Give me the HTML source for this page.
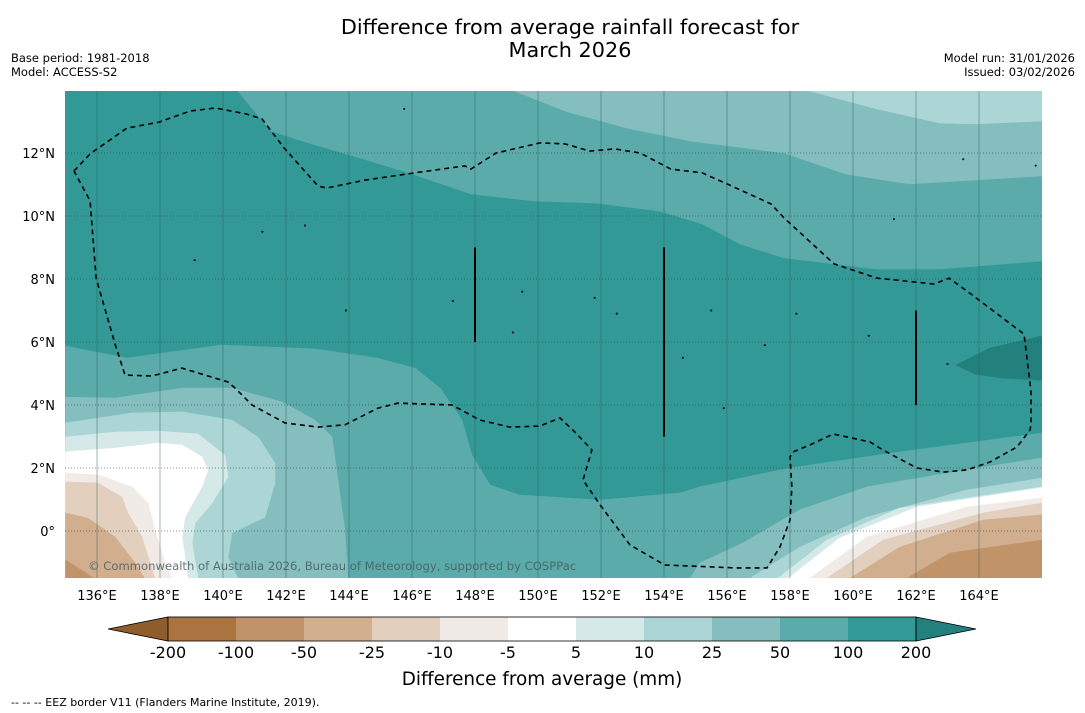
<!DOCTYPE html>
<html><head><meta charset="utf-8">
<style>
html,body{margin:0;padding:0;background:#fff;}
svg{display:block;font-family:"DejaVu Sans","Liberation Sans",sans-serif;}
</style></head>
<body>
<svg id="chart" width="1085" height="713" viewBox="0 0 1085 713" xmlns="http://www.w3.org/2000/svg">
<text x="570" y="34" text-anchor="middle" font-size="20.8" fill="#000">Difference from average rainfall forecast for</text>
<text x="570" y="57" text-anchor="middle" font-size="20.8" fill="#000">March 2026</text>
<text x="11" y="62" font-size="11.5" fill="#000">Base period: 1981-2018</text>
<text x="11" y="76" font-size="11.5" fill="#000">Model: ACCESS-S2</text>
<text x="1075" y="62" font-size="11.5" text-anchor="end" fill="#000">Model run: 31/01/2026</text>
<text x="1075" y="76" font-size="11.5" text-anchor="end" fill="#000">Issued: 03/02/2026</text>
<defs><clipPath id="mapclip"><rect x="65" y="91" width="977" height="487"/></clipPath></defs>
<g id="map" clip-path="url(#mapclip)"></g>
<g id="axes"></g>
<g id="cbar"></g>
<text x="542" y="685" text-anchor="middle" font-size="18.4" fill="#000">Difference from average (mm)</text>
<text x="11" y="706" font-size="11" fill="#000">--  --  -- EEZ border V11 (Flanders Marine Institute, 2019).</text>
</svg>
<script>
const lonTicks=[136,138,140,142,144,146,148,150,152,154,156,158,160,162,164];
const latTicks=[0,2,4,6,8,10,12];
const levelLabels=['-200','-100','-50','-25','-10','-5','5','10','25','50','100','200'];
const bandColors=['#8f5d2c','#a9743f','#c09468','#d1af8e','#e2cfbe','#f0ebe7','#ffffff','#d5e9e8','#acd5d5','#84bebe','#5aabaa','#339996','#22807d'];
const top100=[[140.44,14],[141.52,12.7],[142.51,12.38],[143.91,11.97],[145.9,11.37],[147.87,10.7],[149.87,10.48],[151.84,10.41],[153.84,10.16],[155.21,9.75],[156.41,9.11],[157.81,8.67],[160.76,8.32],[162.76,8.32],[166,8.57]];
const top50=[[149.17,14],[150.86,13.33],[152.83,12.79],[154.83,12.38],[157.81,12.0],[159.78,11.33],[161.78,11.02],[166,11.27]];
const top25=[[158.5,14],[160.76,13.4],[162.76,12.95],[163.94,12.92],[166,13.02]];
const dark200=[[163.27,5.27],[164.35,5.81],[166,6.19],[166,4.79],[164.73,4.86],[163.87,4.98]];
const low100=[[135,5.87],[136.95,5.49],[139.94,5.9],[142.92,5.78],[144.89,5.49],[146.1,5.17],[146.89,4.54],[147.59,3.52],[147.9,2.41],[148.48,1.46],[149.43,1.14],[151.97,0.98],[154.51,1.21],[155.13,1.4],[157.99,2.0],[161.48,2.51],[166,3.11]];
const low50L=[[135,4.25],[136.57,4.22],[138.7,4.54],[140.29,4.54],[141.87,4.1],[142.92,3.52],[143.46,2.98],[143.65,1.62],[143.87,0.03],[143.97,-1.52]];
const low50R=[[154.83,-1.5],[155.13,-1.02],[156.5,-0.38],[158.31,0.67],[160.44,1.4],[163.61,1.94],[166,2.32]];
const low25L=[[135,3.43],[137.11,3.75],[138.7,3.78],[140.29,3.52],[141.11,2.98],[141.65,2.16],[141.65,1.52],[141.33,0.44],[140.29,-0.06],[140.16,-0.83],[140.48,-1.52]];
const low25R=[[156.73,-1.5],[158.31,-0.51],[160.44,0.44],[163.61,1.3],[166,1.68]];
const low10L=[[135,2.98],[136.57,3.14],[137.94,3.17],[139.21,3.08],[140.06,2.41],[140.16,1.71],[139.65,0.89],[139.11,0.25],[139.02,-0.38],[139.21,-1.52]];
const low10R=[[157.62,-1.5],[159.17,-0.29],[161.49,0.73],[166,1.4]];
const low5L=[[135,2.51],[136.57,2.63],[137.94,2.79],[138.7,2.73],[139.33,2.35],[139.52,1.94],[139.33,1.4],[138.79,0.44],[138.7,-0.19],[138.89,-1.52]];
const low5R=[[157.94,-1.5],[159.59,-0.22],[162.03,0.76],[166,1.37]];
const lowm5L=[[135,1.84],[136.03,1.78],[137.11,1.4],[137.62,0.89],[137.84,0.03],[138.16,-1.02],[138.38,-1.52]];
const lowm5R=[[158.63,-1.5],[160.44,-0.19],[163.61,0.76],[166,1.05]];
const lowm10L=[[135,1.56],[136.03,1.52],[136.79,1.08],[136.98,0.57],[137.43,-0.19],[137.84,-1.52]];
const lowm10R=[[159.17,-1.5],[160.95,-0.29],[164.13,0.57],[166,0.89]];
const lowm25L=[[135,0.57],[135.71,0.41],[136.57,-0.19],[137.21,-1.02],[137.52,-1.52]];
const lowm25R=[[159.9,-1.5],[161.49,-0.51],[164.13,0.35],[166,0.51]];
const lowm50L=[[135,-0.92],[135.94,-1.52]];
const lowm50R=[[161.71,-1.5],[163.08,-0.7],[166,-0.29]];
const eez=[[135.27,11.43],[135.78,11.97],[136.95,12.79],[137.97,12.98],[138.95,13.33],[139.75,13.43],[140.73,13.24],[141.24,13.08],[141.94,12.16],[143.02,10.95],[143.3,10.89],[144.51,11.14],[146.1,11.37],[147.68,11.59],[147.87,11.49],[148.67,12.0],[150.06,12.32],[150.86,12.29],[151.65,12.06],[152.44,12.13],[153.24,12.0],[154.22,11.49],[155.21,11.37],[156.0,11.02],[157.4,10.38],[157.81,9.94],[159.4,8.48],[160.76,8.03],[162.57,7.84],[163.05,8.03],[163.75,7.52],[165.43,6.25],[165.65,4.44],[165.65,3.37],[165.62,3.21],[165.21,2.67],[164.35,2.19],[163.62,1.94],[162.86,1.87],[162.03,2.0],[160.95,2.57],[160.54,2.83],[159.37,3.08],[158.63,2.73],[158.1,2.51],[158.0,2.35],[158.06,1.4],[158.0,0.35],[157.68,-0.51],[157.27,-1.17],[156.25,-1.17],[154.03,-1.08],[152.92,-0.44],[151.97,0.83],[151.43,1.62],[151.71,2.57],[151.17,3.14],[150.7,3.59],[150.06,3.33],[149.11,3.3],[148.16,3.52],[147.68,3.78],[147.27,4.0],[145.56,4.06],[144.92,3.9],[143.87,3.37],[143.02,3.3],[141.97,3.43],[140.92,4.0],[140.38,4.54],[140.16,4.73],[138.7,5.17],[137.75,4.92],[136.89,4.95],[136.57,5.94],[135.97,8.03],[135.78,10.48],[135.27,11.43]];
const segLines=[[148,6,9],[154,3,9],[162,4,7]];
const islands=[[145.75,13.4],[141.25,9.5],[139.1,8.6],[142.6,9.7],[149.5,7.6],[151.8,7.4],[155.5,7.0],[158.2,6.9],[163.0,5.3],[160.5,6.2],[143.9,7.0],[147.3,7.3],[149.2,6.3],[152.5,6.9],[157.2,5.9],[154.6,5.5],[155.9,3.9],[161.3,9.9],[163.5,11.8],[165.8,11.6]];

const NS='http://www.w3.org/2000/svg';
const X=lon=>65.5+(lon-135)*31.5;
const Y=lat=>531-lat*31.5;
const map=document.getElementById('map');
const axes=document.getElementById('axes');
const cbar=document.getElementById('cbar');
function mk(tag,attrs,parent){const e=document.createElementNS(NS,tag);for(const k in attrs)e.setAttribute(k,attrs[k]);parent.appendChild(e);return e;}
function pts(arr,extra){return arr.concat(extra||[]).map(p=>X(p[0]).toFixed(1)+','+Y(p[1]).toFixed(1)).join(' ');}
const BL=[135,-1.6], BR=[166.1,-1.6], TR=[166.1,14.1];

let bg=mk('rect',{x:65,y:91,width:977,height:487,fill:bandColors[11]},map);



const fills=[
 [top100,[TR],10,'band-top-50-100'],
 [top50,[TR],9,'band-top-25-50'],
 [top25,[TR],8,'band-top-10-25'],
 [dark200,[],12,'band-over-200'],
 [low100,[BR,BL],10,'band-low-50-100'],
 [low50L,[BL],9,'band-left-25-50'],
 [low50R,[BR],9,'band-right-25-50'],
 [low25L,[BL],8,'band-left-10-25'],
 [low25R,[BR],8,'band-right-10-25'],
 [low10L,[BL],7,'band-left-5-10'],
 [low10R,[BR],7,'band-right-5-10'],
 [low5L,[BL],6,'band-left-neutral'],
 [low5R,[BR],6,'band-right-neutral'],
 [lowm5L,[BL],5,'band-left-minus5-10'],
 [lowm5R,[BR],5,'band-right-minus5-10'],
 [lowm10L,[BL],4,'band-left-minus10-25'],
 [lowm10R,[BR],4,'band-right-minus10-25'],
 [lowm25L,[BL],3,'band-left-minus25-50'],
 [lowm25R,[BR],3,'band-right-minus25-50'],
 [lowm50L,[BL],2,'band-left-minus50-100'],
 [lowm50R,[BR],2,'band-right-minus50-100']
];
fills.forEach(f=>{
 const p=mk('polygon',{points:pts(f[0],f[1]),fill:bandColors[f[2]],stroke:bandColors[f[2]],'stroke-width':0.6},map);
 
 
});
lonTicks.forEach(l=>{
 const g=mk('line',{x1:X(l),x2:X(l),y1:91,y2:578,stroke:'#2b5e5c','stroke-opacity':0.45,'stroke-width':1},map);
 
 
});
latTicks.forEach(l=>{
 const g=mk('line',{x1:65,x2:1042,y1:Y(l),y2:Y(l),stroke:'#2b4e4c','stroke-opacity':0.6,'stroke-width':1,'stroke-dasharray':'1,2'},map);
 
 
});
islands.forEach(p=>{
 const c=mk('circle',{cx:X(p[0]),cy:Y(p[1]),r:1,fill:'#000'},map);
 
 
});
const ez=mk('polyline',{points:pts(eez),fill:'none',stroke:'#000','stroke-width':1.6,'stroke-dasharray':'5,4'},map);


segLines.forEach(s=>{
 const l=mk('line',{x1:X(s[0]),x2:X(s[0]),y1:Y(s[1]),y2:Y(s[2]),stroke:'#000','stroke-width':2},map);
 
 
});
const cp=mk('text',{x:88,y:570,'font-size':11.6,fill:'#4a5f5e','fill-opacity':0.85},map);
cp.textContent='© Commonwealth of Australia 2026, Bureau of Meteorology, supported by COSPPac';


lonTicks.forEach(l=>{
 const t=mk('text',{x:X(l),y:600,'text-anchor':'middle','font-size':13,fill:'#000'},axes);
 t.textContent=l+'°E';
 
 
});
latTicks.forEach(l=>{
 const t=mk('text',{x:55,y:Y(l)+5,'text-anchor':'end','font-size':13,fill:'#000'},axes);
 t.textContent=l===0?'0°':l+'°N';
 
 
});
const cbx0=168,cbw=68,cby=617,cbh=24;
const lt=mk('polygon',{points:`108,${cby+cbh/2} ${cbx0},${cby} ${cbx0},${cby+cbh}`,fill:bandColors[0],stroke:'#000','stroke-width':0.8},cbar);


for(let i=0;i<11;i++){
 const r=mk('rect',{x:cbx0+i*cbw,y:cby,width:cbw,height:cbh,fill:bandColors[i+1]},cbar);
 
 
}
const xe=cbx0+11*cbw;
const rt=mk('polygon',{points:`${xe},${cby} ${xe+60},${cby+cbh/2} ${xe},${cby+cbh}`,fill:bandColors[12],stroke:'#000','stroke-width':0.8},cbar);


const ol=mk('rect',{x:cbx0,y:cby,width:11*cbw,height:cbh,fill:'none',stroke:'#000','stroke-width':0.8},cbar);


levelLabels.forEach((lab,i)=>{
 const t=mk('text',{x:cbx0+i*cbw,y:658,'text-anchor':'middle','font-size':16,fill:'#000'},cbar);
 t.textContent=lab;
 
 
});
</script>
</body></html>
